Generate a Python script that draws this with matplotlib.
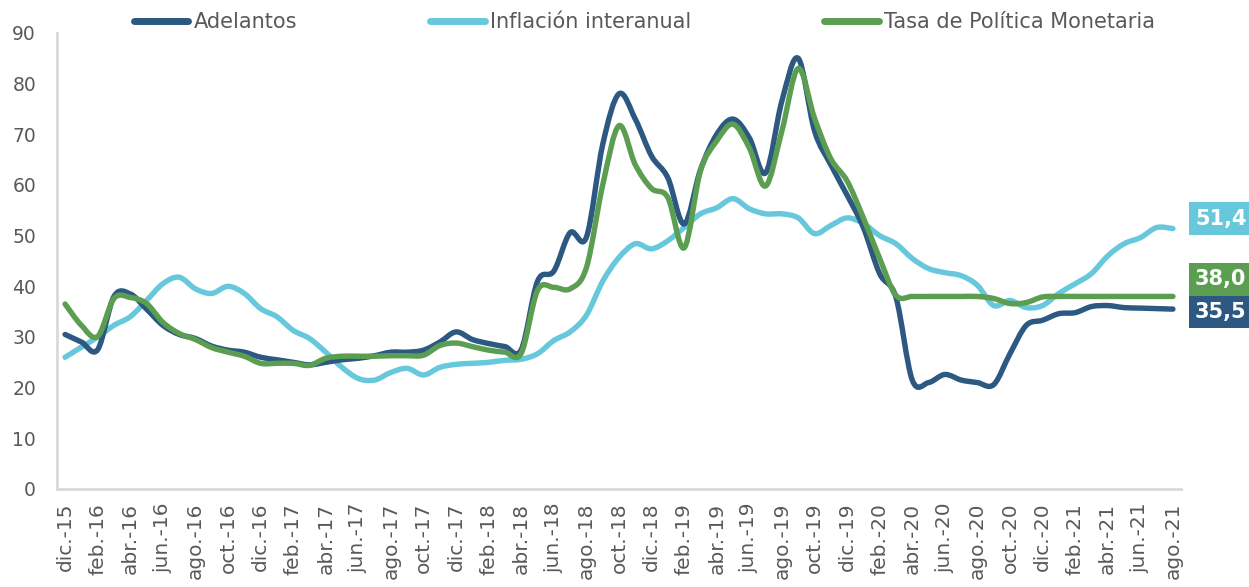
import numpy as np
import matplotlib
matplotlib.use("Agg")
import matplotlib.pyplot as plt
from matplotlib.lines import Line2D
from matplotlib.path import Path
from matplotlib.patches import PathPatch

# monthly data, dic.-15 .. ago.-21
adelantos = [30.5, 29.0, 27.5, 38.0, 38.5, 35.5, 32.3, 30.5, 29.7, 28.2, 27.4, 27.0,
             26.0, 25.5, 25.0, 24.5, 25.0, 25.5, 25.8, 26.3, 27.0, 27.0, 27.4, 29.0,
             31.0, 29.5, 28.7, 28.1, 27.5, 41.0, 43.0, 50.6, 49.7, 68.0, 78.0, 73.0,
             65.7, 61.4, 52.3, 63.0, 70.0, 73.0, 69.3, 62.4, 76.6, 85.0, 70.7, 64.0,
             58.0, 51.6, 42.5, 37.8, 21.5, 21.0, 22.6, 21.5, 21.0, 20.6, 26.7, 32.3,
             33.3, 34.6, 34.8, 36.0, 36.2, 35.8, 35.7, 35.6, 35.5]
inflacion = [26.0, 28.0, 30.0, 32.3, 34.0, 37.2, 40.5, 41.8, 39.5, 38.6, 40.0, 38.6,
             35.6, 34.0, 31.3, 29.7, 27.0, 24.0, 21.8, 21.5, 23.0, 23.8, 22.5, 24.0,
             24.6, 24.8, 25.0, 25.4, 25.6, 26.7, 29.3, 31.0, 34.3, 41.0, 45.7, 48.4,
             47.4, 49.0, 51.6, 54.3, 55.5, 57.3, 55.3, 54.3, 54.3, 53.5, 50.4, 52.0,
             53.5, 52.4, 50.0, 48.4, 45.5, 43.5, 42.7, 42.1, 40.2, 36.2, 37.2, 35.8,
             36.2, 38.6, 40.5, 42.5, 46.0, 48.4, 49.6, 51.6, 51.4]
tpm = [36.5, 32.3, 30.1, 37.6, 37.8, 36.6, 32.9, 30.7, 29.5, 27.9, 27.0, 26.2,
       24.8, 24.8, 24.8, 24.4, 25.8, 26.2, 26.2, 26.2, 26.3, 26.3, 26.4, 28.3,
       28.8, 28.1, 27.4, 27.0, 26.8, 39.2, 39.8, 39.5, 43.7, 60.0, 71.7, 64.0,
       59.3, 57.5, 47.6, 62.8, 68.7, 72.0, 67.3, 59.8, 70.7, 83.0, 73.2, 65.2,
       60.8, 53.5, 45.5, 38.2, 38.0, 38.0, 38.0, 38.0, 38.0, 37.6, 36.6, 36.8,
       37.9, 38.0, 38.0, 38.0, 38.0, 38.0, 38.0, 38.0, 38.0]

tick_labels = ['dic.-15', 'feb.-16', 'abr.-16', 'jun.-16', 'ago.-16', 'oct.-16',
               'dic.-16', 'feb.-17', 'abr.-17', 'jun.-17', 'ago.-17', 'oct.-17',
               'dic.-17', 'feb.-18', 'abr.-18', 'jun.-18', 'ago.-18', 'oct.-18',
               'dic.-18', 'feb.-19', 'abr.-19', 'jun.-19', 'ago.-19', 'oct.-19',
               'dic.-19', 'feb.-20', 'abr.-20', 'jun.-20', 'ago.-20', 'oct.-20',
               'dic.-20', 'feb.-21', 'abr.-21', 'jun.-21', 'ago.-21']

names = ['Adelantos', 'Inflación interanual', 'Tasa de Política Monetaria']
end_labels = ['35,5', '51,4', '38,0']

c_adel = '#2C5881'
c_infl = '#67C8DC'
c_tpm = '#5B9E51'
grey = '#595959'


def smooth_line(ax, xs, ys, color, z):
    # excel-style smoothed line: cubic bezier through every data point
    p = np.column_stack([xs, ys]).astype(float)
    verts = [p[0]]
    codes = [Path.MOVETO]
    n = len(p)
    for i in range(n - 1):
        p0 = p[i - 1] if i > 0 else p[i]
        p3 = p[i + 2] if i + 2 < n else p[i + 1]
        c1 = p[i] + (p[i + 1] - p0) / 6.0
        c2 = p[i + 1] - (p3 - p[i]) / 6.0
        verts += [c1, c2, p[i + 1]]
        codes += [Path.CURVE4] * 3
    ax.add_patch(PathPatch(Path(verts, codes), fill=False, ec=color, lw=3.9,
                           capstyle='round', joinstyle='round', zorder=z))


plt.rcParams['font.family'] = ['DejaVu Sans']

fig = plt.figure(figsize=(12.49, 5.87), dpi=100)
ax = fig.add_axes([0.0456, 0.167, 0.9, 0.7768])

x = np.arange(len(adelantos))
smooth_line(ax, x, inflacion, c_infl, 2)
smooth_line(ax, x, adelantos, c_adel, 3)
smooth_line(ax, x, tpm, c_tpm, 4)

ax.set_xlim(-0.5, len(x) - 0.5)
ax.set_ylim(0, 90)
ax.set_yticks(np.arange(0, 91, 10))
ax.set_xticks(x[::2])
ax.set_xticklabels(tick_labels, rotation=90, fontsize=14.5, color=grey)
ax.tick_params(axis='y', length=0, pad=15, labelsize=13.5, labelcolor=grey)
ax.tick_params(axis='x', length=0, pad=10)

for s in ['top', 'right']:
    ax.spines[s].set_visible(False)
for s in ['left', 'bottom']:
    ax.spines[s].set_color('#D9D9D9')
    ax.spines[s].set_linewidth(2)

# end-of-series value boxes
last = len(x) - 1
for val, txt, col, dy in [(adelantos[-1], end_labels[0], c_adel, -3),
                          (inflacion[-1], end_labels[1], c_infl, 10),
                          (tpm[-1], end_labels[2], c_tpm, 17)]:
    ax.annotate(txt, xy=(last, val), xytext=(22, dy), textcoords='offset pixels',
                ha='left', va='center', fontsize=15, fontweight='bold', color='white',
                bbox=dict(boxstyle='square,pad=0.3', fc=col, ec='none'),
                annotation_clip=False)

handles = [Line2D([], [], color=c, lw=5, solid_capstyle='round') for c in (c_adel, c_infl, c_tpm)]
fig.legend(handles, names, loc='center', bbox_to_anchor=(0.516, 0.962), ncol=3,
           frameon=False, fontsize=15, labelcolor=grey, handlelength=2.6,
           handletextpad=0.25, columnspacing=6.4)

fig.savefig('out.png', dpi=100)
